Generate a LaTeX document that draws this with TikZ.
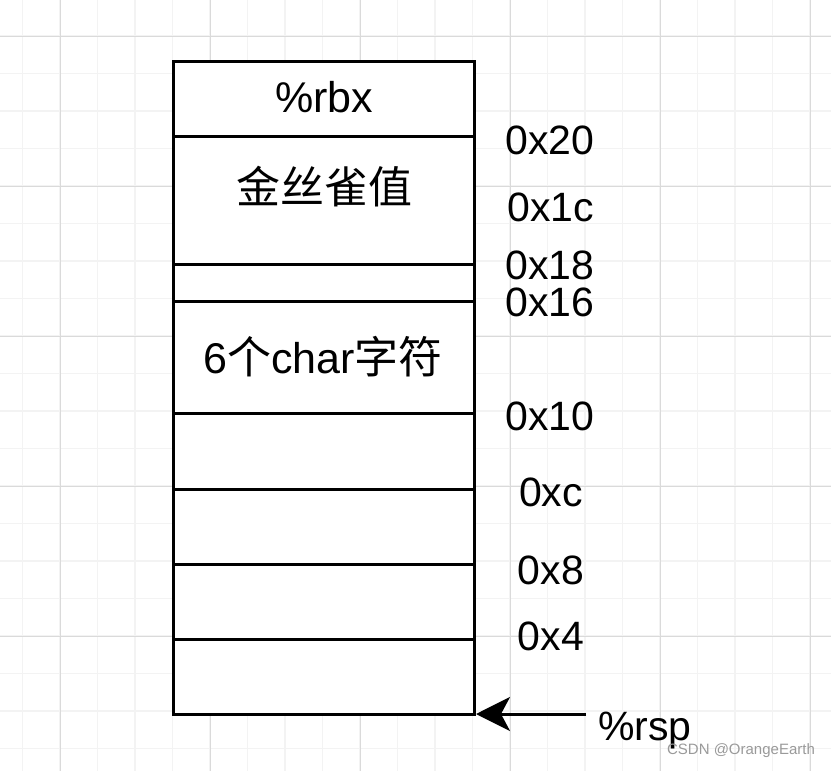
\documentclass[tikz,border=0pt]{standalone}
\usepackage{fontspec}
\setmainfont{Liberation Sans}
\newfontfamily\cjk{Noto Sans CJK SC}
\usetikzlibrary{arrows.meta}
\definecolor{gridminor}{HTML}{F3F3F3}
\definecolor{gridmajor}{HTML}{DADADA}
\definecolor{wmark}{HTML}{9A9A9A}
\tikzset{
  cell/.style={draw=black, line width=3pt, fill=white},
  addr/.style={font=\fontsize{41}{46}\selectfont, inner sep=0pt},
  celltext/.style={font=\fontsize{43}{48}\selectfont, inner sep=0pt},
  cjktext/.style={font=\cjk\fontsize{44}{50}\selectfont, inner sep=0pt},
}
\begin{document}
\begin{tikzpicture}[x=1pt,y=-1pt]
\useasboundingbox (0,0) rectangle (831,771);
\fill[white] (0,0) rectangle (831,771);
% grid
\foreach \i in {0,...,21} {
  \pgfmathsetmacro{\xx}{22.5+37.5*\i}
  \draw[gridminor, line width=1.3pt] (\xx,0) -- (\xx,771);
}
\foreach \i in {0,...,20} {
  \pgfmathsetmacro{\yy}{36+37.5*\i}
  \draw[gridminor, line width=1.3pt] (0,\yy) -- (831,\yy);
}
\foreach \xx in {60,210,360,510,660,810} \draw[gridmajor, line width=1pt] (\xx,0) -- (\xx,771);
\foreach \yy in {36,186,336,486,636} \draw[gridmajor, line width=1pt] (0,\yy) -- (831,\yy);
% stack cells
\draw[cell] (173,61) rectangle (474,136);
\draw[cell] (173,136) rectangle (474,264);
\draw[cell] (173,264) rectangle (474,301);
\draw[cell] (173,301) rectangle (474,413);
\draw[cell] (173,413) rectangle (474,489);
\draw[cell] (173,489) rectangle (474,564);
\draw[cell] (173,564) rectangle (474,639);
\draw[cell] (173,639) rectangle (474,714);
\coordinate (bottomright) at (474,714);
% cell texts
\node[celltext] (rbx) at (324,97) {\%rbx};
\node[cjktext] (canary) at (324,187) {金丝雀值};
\node[celltext] (chars) at (323,357) {6{\cjk\fontsize{44}{50}\selectfont 个}char{\cjk\fontsize{44}{50}\selectfont 字符}};
% address labels
\node[addr] (a20) at (550,140) {0x20};
\node[addr] (a1c) at (551,207) {0x1c};
\node[addr] (a18) at (550,265) {0x18};
\node[addr] (a16) at (550,302) {0x16};
\node[addr] (a10) at (550,416) {0x10};
\node[addr] (a0c) at (551,492) {0xc};
\node[addr] (a08) at (551,570) {0x8};
\node[addr] (a04) at (551,636) {0x4};
% rsp
\node[addr] (rsp) at (645,731) {\%rsp};
\coordinate (rspstart) at (586,714);
\draw[line width=3pt, -{Stealth[length=34pt,width=34pt,inset=9pt]}] (rspstart) -- ([xshift=2pt]bottomright);
% watermark
\node[font=\fontsize{15}{17}\selectfont, text=wmark, inner sep=0pt] (wm) at (741,751) {CSDN @OrangeEarth};
\end{tikzpicture}
\end{document}
